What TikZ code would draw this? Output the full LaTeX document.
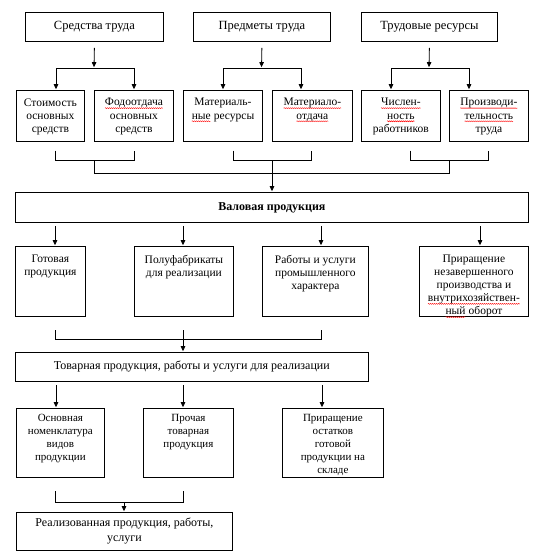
\documentclass[tikz,border=0pt]{standalone}
\usepackage{fontspec}
\setmainfont{Liberation Serif}
\usetikzlibrary{arrows.meta,calc,decorations.pathmorphing}
\newcommand\sq[1]{\tikz[baseline=(sqw.base)]{\node[inner sep=0pt,outer sep=0pt] (sqw) {#1};\draw[red, line width=0.4pt, decorate, decoration={snake, amplitude=0.5pt, segment length=2pt}] ([yshift=-2.2pt]sqw.base west) -- ([yshift=-2.2pt]sqw.base east);}}
\newcommand\bxc[3]{\parbox[c][#2][c]{#1}{\centering #3}}
\newcommand\bxt[4]{\parbox[c][#2][t]{#1}{\centering\vspace*{#3}#4\par}}
\newcommand\fBig{\fontsize{12.5}{15}\selectfont}
\newcommand\fMid{\fontsize{12}{15}\selectfont}
\newcommand\fSml{\fontsize{11.5}{13.1}\selectfont}
\newcommand\fTin{\fontsize{11}{13}\selectfont}
\tikzset{
  box/.style={draw, line width=0.8pt, inner sep=0pt, anchor=north west},
  ln/.style={draw, line width=0.8pt},
  arr/.style={draw, line width=0.8pt, -{Triangle[length=5pt,width=4.5pt]}, shorten >=0.8pt},
  darr/.style={draw, line width=0.8pt, {Triangle[length=5pt,width=4.5pt]}-{Triangle[length=5pt,width=4.5pt]}, shorten >=0.8pt, shorten <=0.8pt},
}
\begin{document}
\begin{tikzpicture}[x=1pt,y=-1pt,font=\fontsize{11.5}{13.1}\selectfont]
\useasboundingbox (0,0) rectangle (535,557);
% top row
\node[box] (t1) at (25,12) {\bxc{138pt}{29pt}{\fBig Средства труда}};
\node[box] (t2) at (193,12) {\bxc{137pt}{29pt}{\fBig Предметы труда}};
\node[box] (t3) at (361,12) {\bxc{136pt}{29pt}{\fBig Трудовые ресурсы}};
% level 2
\node[box] (a1) at (16,90) {\bxt{68pt}{51pt}{8pt}{\fSml Стоимость\\основных\\средств}};
\node[box] (a2) at (94,90) {\bxt{79pt}{51pt}{8pt}{\fSml \sq{Фодоотдача}\\основных\\средств}};
\node[box] (a3) at (183,90) {\bxt{79pt}{51pt}{8pt}{\fSml Материаль-\\\sq{ные} ресурсы}};
\node[box] (a4) at (272,90) {\bxt{80pt}{51pt}{8pt}{\fSml \sq{Материало-}\\\sq{отдача}}};
\node[box] (a5) at (361,90) {\bxt{79pt}{51pt}{8pt}{\fSml \sq{Числен-}\\\sq{ность}\\работников}};
\node[box] (a6) at (449,90) {\bxt{79pt}{51pt}{8pt}{\fSml \sq{Производи-}\\\sq{тельность}\\труда}};
% gross
\node[box] (v) at (15,192) {\bxc{513pt}{30pt}{\fMid\textbf{Валовая продукция}}};
% level 3
\node[box] (b1) at (15,246) {\bxt{70pt}{70pt}{8.5pt}{\fSml Готовая\\продукция}};
\node[box] (b2) at (134,246) {\bxt{99pt}{70pt}{8.5pt}{\fSml Полуфабрикаты\\для реализации}};
\node[box] (b3) at (262,246) {\bxt{106pt}{70pt}{8.5pt}{\fSml Работы и услуги\\промышленного\\характера}};
\node[box] (b4) at (419,246) {\bxt{109pt}{70pt}{8.5pt}{\fSml Приращение\\незавершенного\\производства и\\\sq{внутрихозяйствен-}\\\sq{ный} оборот}};
% commodity
\node[box] (tv) at (15,352) {\bxc{353pt}{29pt}{\fMid Товарная продукция, работы и услуги для реализации}};
% level 4
\node[box] (c1) at (16,408) {\bxt{88pt}{69pt}{6pt}{\fTin Основная\\номенклатура\\видов\\продукции}};
\node[box] (c2) at (143,408) {\bxt{90pt}{69pt}{6pt}{\fTin Прочая\\товарная\\продукция}};
\node[box] (c3) at (282,408) {\bxt{101pt}{69pt}{6pt}{\fTin Приращение\\остатков\\готовой\\продукции на\\складе}};
% realized
\node[box] (r) at (16,512) {\bxc{216pt}{38pt}{\fMid Реализованная продукция, работы,\\услуги}};

% top forks
\coordinate (f1) at (94,68);
\coordinate (f2) at (261.5,68);
\coordinate (f3) at (429,68);
\draw[arr] ([yshift=-6pt]t1.south) -- (f1);
\draw[arr] ([yshift=-6pt]t2.south) -- (f2);
\draw[arr] ([yshift=-6pt]t3.south) -- (f3);
\coordinate (l1) at (56,68);  \coordinate (l2) at (134,68);
\coordinate (l3) at (223,68); \coordinate (l4) at (301,68);
\coordinate (l5) at (391,68); \coordinate (l6) at (469,68);
\draw[darr] (l1 |- a1.north) -- (l1) -- (l2) -- (l2 |- a2.north);
\draw[darr] (l3 |- a3.north) -- (l3) -- (l4) -- (l4 |- a4.north);
\draw[darr] (l5 |- a5.north) -- (l5) -- (l6) -- (l6 |- a6.north);

% brackets below level 2
\coordinate (g1) at (55,160.5);  \coordinate (g2) at (134,160.5);
\coordinate (g3) at (233,160.5); \coordinate (g4) at (311,160.5);
\coordinate (g5) at (410,160.5); \coordinate (g6) at (488,160.5);
\draw[ln] ($(g1)+(0,-10)$) -- (g1) -- (g2) -- ($(g2)+(0,-10)$);
\draw[ln] ($(g3)+(0,-10)$) -- (g3) -- (g4) -- ($(g4)+(0,-10)$);
\draw[ln] ($(g5)+(0,-10)$) -- (g5) -- (g6) -- ($(g6)+(0,-10)$);
\coordinate (m1) at (94.5,160.5); \coordinate (m2) at (272,160.5); \coordinate (m3) at (449,160.5);
\coordinate (h1) at (94.5,173); \coordinate (h3) at (449,173);
\draw[ln] (m1) -- (h1) -- (h3) -- (m3);
\draw[arr] (m2) -- (m2 |- v.north);

% arrows from gross production
\coordinate (p1) at (55,226);  \coordinate (p2) at (183,226);
\coordinate (p3) at (321,226); \coordinate (p4) at (480,226);
\draw[arr] (p1) -- (p1 |- b1.north);
\draw[arr] (p2) -- (p2 |- b2.north);
\draw[arr] (p3) -- (p3 |- b3.north);
\draw[arr] (p4) -- (p4 |- b4.north);

% bracket below level 3
\coordinate (q1) at (55,339); \coordinate (q2) at (321,339);
\draw[ln] ($(q1)+(0,-9)$) -- (q1) -- (q2) -- ($(q2)+(0,-9)$);
\coordinate (q3) at (183,330);
\draw[arr] (q3) -- (q3 |- tv.north);

% arrows from commodity production
\coordinate (u1) at (56,385); \coordinate (u2) at (183,385); \coordinate (u3) at (322,385);
\draw[arr] (u1) -- (u1 |- c1.north);
\draw[arr] (u2) -- (u2 |- c2.north);
\draw[arr] (u3) -- (u3 |- c3.north);

% bracket below level 4
\coordinate (k1) at (55,502); \coordinate (k2) at (183,502);
\draw[ln] ($(k1)+(0,-11)$) -- (k1) -- (k2) -- ($(k2)+(0,-11)$);
\coordinate (w) at (124,502);
\draw[arr] (w) -- (w |- r.north);
\end{tikzpicture}
\end{document}
